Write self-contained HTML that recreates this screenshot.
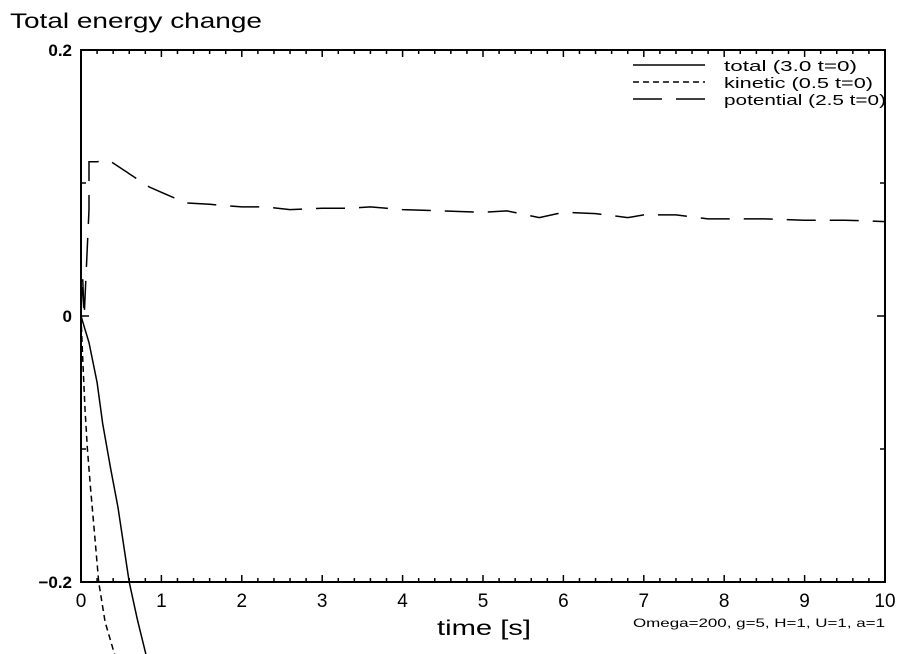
<!DOCTYPE html>
<html><head><meta charset="utf-8"><style>
html,body{margin:0;padding:0;background:#fff;}
svg{display:block;font-family:"Liberation Sans",sans-serif;}
</style></head><body>
<svg id="chart" width="904" height="654" viewBox="0 0 904 654">
<text x="10" y="28" font-size="21" textLength="252" lengthAdjust="spacingAndGlyphs">Total energy change</text>
<g id="axes"></g>
<g id="series"></g>
<text x="437" y="635" font-size="21" textLength="94" lengthAdjust="spacingAndGlyphs">time [s]</text>
<text x="633" y="627" font-size="12" textLength="252" lengthAdjust="spacingAndGlyphs">Omega=200, g=5, H=1, U=1, a=1</text>
<g>
<line x1="633" y1="65" x2="705" y2="65" stroke="#000" stroke-width="1.5"/>
<text x="724" y="71" font-size="15" textLength="133" lengthAdjust="spacingAndGlyphs">total (3.0 t=0)</text>
<line x1="633" y1="82" x2="705" y2="82" stroke="#000" stroke-width="1.5" stroke-dasharray="6,4"/>
<text x="724" y="88" font-size="15" textLength="149" lengthAdjust="spacingAndGlyphs">kinetic (0.5 t=0)</text>
<line x1="633" y1="99" x2="705" y2="99" stroke="#000" stroke-width="1.5" stroke-dasharray="29,14"/>
<text x="724" y="105" font-size="15" textLength="162" lengthAdjust="spacingAndGlyphs">potential (2.5 t=0)</text>
</g>
</svg>
<script>
const xTicks = [0,1,2,3,4,5,6,7,8,9,10];
const yTickLabels = ["0.2","0","\u22120.2"];
const yTickValues = [0.2,0,-0.2];
const totalT = [0,0.05,0.1,0.2,0.27,0.37,0.46,0.6,0.7,0.81];
const totalV = [0,-0.01,-0.02,-0.05,-0.081,-0.115,-0.144,-0.2,-0.228,-0.255];
const kineticT = [0,0.02,0.05,0.08,0.12,0.17,0.22,0.3,0.42];
const kineticV = [0,-0.03,-0.07,-0.1,-0.13,-0.165,-0.2,-0.23,-0.255];
const potentialT = [0,0.02,0.04,0.1,0.1,0.2,0.35,0.6,0.85,1.0,1.3,1.6,2.0,2.3,2.6,3.0,3.3,3.6,4.0,4.5,5.0,5.3,5.7,6.0,6.4,6.8,7.0,7.4,7.8,8.0,8.5,9.0,9.5,10];
const potentialV = [0,0.03,0.0,0.08,0.116,0.116,0.117,0.107,0.097,0.093,0.085,0.084,0.082,0.082,0.080,0.081,0.081,0.082,0.080,0.079,0.078,0.079,0.074,0.078,0.077,0.074,0.076,0.076,0.073,0.073,0.073,0.072,0.072,0.071];

const X0=81,X1=885,Y0=582,Y1=50;
function sx(t){return X0+(t-0)/(10-0)*(X1-X0);}
function sy(v){return Y0-(v+0.2)/0.4*(Y0-Y1);}
const NS="http://www.w3.org/2000/svg";
const axes=document.getElementById('axes'), ser=document.getElementById('series');
function mk(tag,attrs,parent){const e=document.createElementNS(NS,tag);for(const k in attrs)e.setAttribute(k,attrs[k]);parent.appendChild(e);return e;}

const frame=mk('rect',{x:X0,y:Y1,width:X1-X0,height:Y0-Y1,fill:'none',stroke:'#000','stroke-width':2},axes);



for(let i=0;i<=50;i++){
  const t=i*0.2, x=sx(t), major=(i%5===0), L=major?7:4;
  const a=mk('line',{x1:x,y1:Y0,x2:x,y2:Y0-L,stroke:'#000','stroke-width':1.5},axes);
  
  
  const b=mk('line',{x1:x,y1:Y1,x2:x,y2:Y1+L,stroke:'#000','stroke-width':1.5},axes);
  
  
}
xTicks.forEach(t=>{
  const tx=mk('text',{x:sx(t),y:607,'font-size':19,'text-anchor':'middle'},axes);
  tx.textContent=String(t);
  
  
});
[-0.2,-0.1,0,0.1,0.2].forEach(v=>{
  const y=sy(v), major=Math.abs(v*10)%2<0.01, L=major?8:5;
  const a=mk('line',{x1:X0,y1:y,x2:X0+L,y2:y,stroke:'#000','stroke-width':1.5},axes);
  
  
  const b=mk('line',{x1:X1,y1:y,x2:X1-L,y2:y,stroke:'#000','stroke-width':1.5},axes);
  
  
});
yTickValues.forEach((v,i)=>{
  const tx=mk('text',{x:72,y:sy(v)+6,'font-size':17,'font-weight':'bold','text-anchor':'end'},axes);
  tx.textContent=yTickLabels[i];
  
  
});

function line(T,V,dash,name){
  const d=T.map((t,i)=>(i?'L':'M')+sx(t).toFixed(1)+','+sy(V[i]).toFixed(1)).join(' ');
  const p=mk('path',{d:d,fill:'none',stroke:'#000','stroke-width':1.5},ser);
  if(dash)p.setAttribute('stroke-dasharray',dash);
  
  
}
line(totalT,totalV,null,'total-line');
line(kineticT,kineticV,'6,4','kinetic-line');
line(potentialT,potentialV,'29,14','potential-line');
</script>
</body></html>
